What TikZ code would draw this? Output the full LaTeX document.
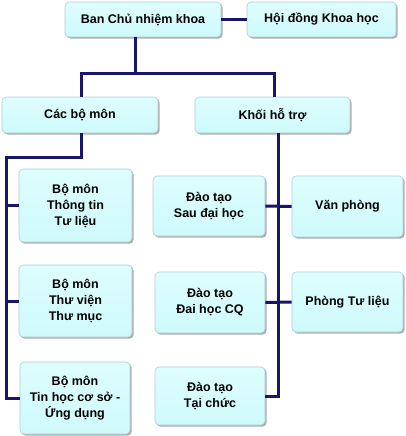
\documentclass[tikz,border=0pt]{standalone}
\usepackage{fontspec}
\setmainfont{Liberation Sans}
\usetikzlibrary{shadows}
\definecolor{boxfill}{RGB}{206,250,252}
\definecolor{boxtop}{RGB}{222,253,254}
\definecolor{boxline}{RGB}{175,205,210}
\definecolor{navy}{RGB}{25,22,105}
\begin{document}
\begin{tikzpicture}[x=1pt,y=-1pt,
  box/.style={draw=boxline, line width=0.6pt, rounded corners=4pt,
    top color=boxtop, bottom color=boxfill,
    drop shadow={shadow xshift=1.6pt, shadow yshift=-1.6pt, fill=black!40, opacity=0.8},
    inner sep=0pt, align=center, font=\fontsize{12.5}{16}\selectfont\bfseries},
  conn/.style={draw=navy, line width=3pt, line join=miter, line cap=butt}]
\useasboundingbox (0,0) rectangle (406,436);
% boxes: center, width, height
\node[box, minimum width=156pt, minimum height=35pt] (ban) at (143,19.5) {Ban Chủ nhiệm khoa};
\node[box, minimum width=149pt, minimum height=35pt] (hoi) at (321.5,19.5) {Hội đồng Khoa học};
\node[box, minimum width=156pt, minimum height=36pt] (cac) at (80,115) {Các bộ môn};
\node[box, minimum width=155pt, minimum height=36pt] (khoi) at (272.5,115) {Khối hỗ trợ};
\node[box, minimum width=113pt, minimum height=73pt] (tt) at (75.5,205.5) {Bộ môn\\Thông tin\\Tư liệu};
\node[box, minimum width=113pt, minimum height=72pt] (tv) at (75.5,301) {Bộ môn\\Thư viện\\Thư mục};
\node[box, minimum width=110pt, minimum height=72pt] (th) at (75,398) {Bộ môn\\Tin học cơ sở -\\Ứng dụng};
\node[box, minimum width=112pt, minimum height=60pt] (sdh) at (209,206) {Đào tạo\\Sau đại học};
\node[box, minimum width=110pt, minimum height=61pt] (dh) at (210,302.5) {Đào tạo\\Đai học CQ};
\node[box, minimum width=110pt, minimum height=58pt] (tc) at (210,396) {Đào tạo\\Tại chức};
\node[box, minimum width=111pt, minimum height=61pt] (vp) at (347.5,206.5) {Văn phòng};
\node[box, minimum width=111pt, minimum height=60pt] (ptl) at (347.5,302) {Phòng Tư liệu};
% junction coordinates
\coordinate (tj) at (135,73);
\coordinate (hl) at (81,73);
\coordinate (hr) at (274,73);
\coordinate (lb1) at (81,157);
\coordinate (lb2) at (6,157);
\coordinate (rv) at (278,150);
% connectors
\draw[conn] (ban.east) -- (hoi.west);
\draw[conn] (ban.south -| tj) -- (tj);
\draw[conn] (cac.north -| hl) -- (hl) -- (hr) -- (khoi.north -| hr);
\draw[conn] (cac.south -| lb1) -- (lb1) -- (lb2) -- (lb2 |- th.west) -- (th.west);
\draw[conn] (lb2 |- tt.west) -- (tt.west);
\draw[conn] (lb2 |- tv.west) -- (tv.west);
\draw[conn] (khoi.south -| rv) -- (rv |- tc.east) -- (tc.east);
\draw[conn] (sdh.east) -- (vp.west);
\draw[conn] (dh.east) -- (ptl.west);
\end{tikzpicture}
\end{document}
